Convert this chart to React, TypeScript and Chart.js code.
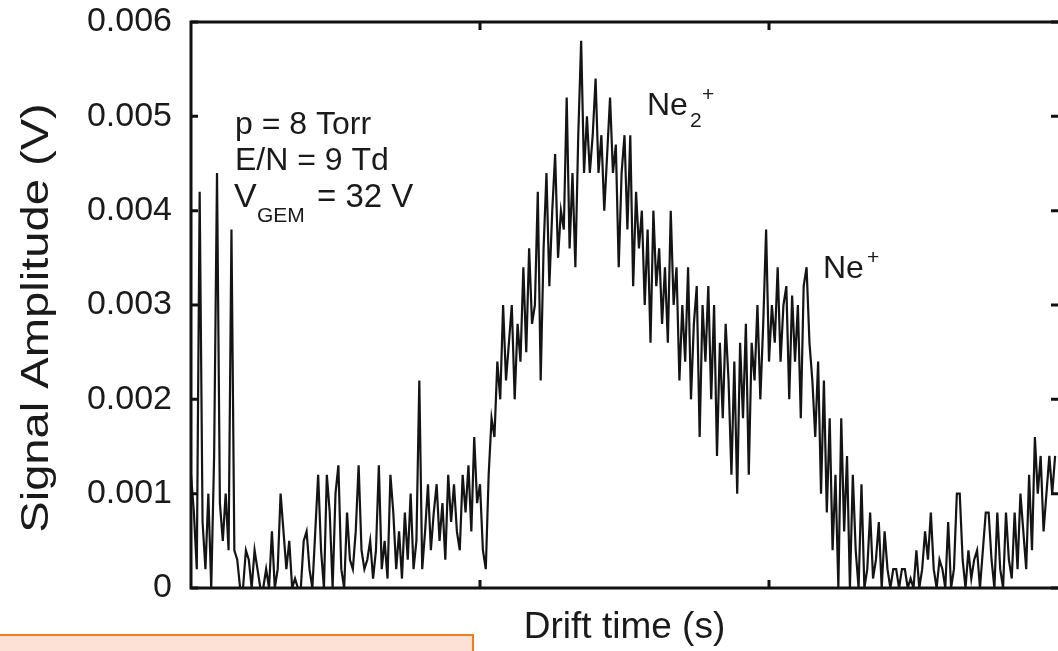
import React, { useEffect, useRef } from "react";
import { Chart, registerables } from "chart.js";

Chart.register(...registerables);

const signal: number[] = [
  0.0012, 0.0008, 0.0002, 0.0042, 0.0007, 0.0002, 0.0010, 0.0000, 0.0014, 0.0044,
  0.0009, 0.0005, 0.0010, 0.0004, 0.0038, 0.0004, 0.0003, 0.0000, 0.0000, 0.0004,
  0.0003, 0.0000, 0.0004, 0.0002, 0.0000, 0.0000, 0.0002, 0.0000, 0.0006, 0.0000,
  0.0002, 0.0010, 0.0006, 0.0002, 0.0005, 0.0000, 0.0001, 0.0000, 0.0000, 0.0005,
  0.0006, 0.0002, 0.0000, 0.0006, 0.0012, 0.0004, 0.0000, 0.0012, 0.0008, 0.0000,
  0.0010, 0.0013, 0.0002, 0.0000, 0.0008, 0.0003, 0.0002, 0.0006, 0.0013, 0.0004,
  0.0002, 0.0003, 0.0005, 0.0001, 0.0004, 0.0013, 0.0002, 0.0005, 0.0001, 0.0012,
  0.0008, 0.0002, 0.0006, 0.0001, 0.0008, 0.0003, 0.0010, 0.0002, 0.0005, 0.0022,
  0.0002, 0.0006, 0.0011, 0.0004, 0.0008, 0.0011, 0.0005, 0.0009, 0.0003, 0.0012,
  0.0007, 0.0011, 0.0006, 0.0004, 0.0012, 0.0008, 0.0013, 0.0006, 0.0016, 0.0009,
  0.0011, 0.0004, 0.0002, 0.0012, 0.0018, 0.0016, 0.0024, 0.0020, 0.0030, 0.0022,
  0.0026, 0.0030, 0.0020, 0.0028, 0.0024, 0.0034, 0.0025, 0.0036, 0.0028, 0.0030,
  0.0042, 0.0022, 0.0036, 0.0044, 0.0032, 0.0040, 0.0046, 0.0035, 0.0040, 0.0038,
  0.0052, 0.0036, 0.0044, 0.0034, 0.0048, 0.0058, 0.0044, 0.0050, 0.0044, 0.0048,
  0.0054, 0.0044, 0.0048, 0.0040, 0.0046, 0.0052, 0.0044, 0.0047, 0.0034, 0.0044,
  0.0048, 0.0038, 0.0048, 0.0032, 0.0042, 0.0036, 0.0040, 0.0030, 0.0038, 0.0026,
  0.0040, 0.0032, 0.0036, 0.0028, 0.0034, 0.0026, 0.0040, 0.0030, 0.0034, 0.0022,
  0.0030, 0.0024, 0.0034, 0.0020, 0.0028, 0.0032, 0.0016, 0.0030, 0.0024, 0.0032,
  0.0020, 0.0030, 0.0014, 0.0026, 0.0018, 0.0028, 0.0022, 0.0012, 0.0024, 0.0010,
  0.0026, 0.0018, 0.0028, 0.0012, 0.0026, 0.0022, 0.0030, 0.0020, 0.0028, 0.0038,
  0.0024, 0.0030, 0.0026, 0.0034, 0.0024, 0.0030, 0.0032, 0.0020, 0.0031, 0.0024,
  0.0030, 0.0018, 0.0032, 0.0034, 0.0026, 0.0022, 0.0016, 0.0024, 0.0010, 0.0022,
  0.0008, 0.0018, 0.0004, 0.0012, 0.0000, 0.0018, 0.0006, 0.0014, 0.0000, 0.0012,
  0.0004, 0.0000, 0.0011, 0.0000, 0.0002, 0.0008, 0.0001, 0.0003, 0.0007, 0.0000,
  0.0006, 0.0002, 0.0000, 0.0002, 0.0002, 0.0000, 0.0002, 0.0002, 0.0000, 0.0001,
  0.0000, 0.0004, 0.0000, 0.0002, 0.0006, 0.0003, 0.0008, 0.0002, 0.0000, 0.0003,
  0.0002, 0.0000, 0.0007, 0.0000, 0.0002, 0.0010, 0.0010, 0.0003, 0.0000, 0.0004,
  0.0001, 0.0003, 0.0004, 0.0000, 0.0004, 0.0008, 0.0008, 0.0003, 0.0000, 0.0008,
  0.0002, 0.0000, 0.0008, 0.0003, 0.0001, 0.0008, 0.0002, 0.0010, 0.0006, 0.0002,
  0.0012, 0.0004, 0.0016, 0.0010, 0.0014, 0.0006, 0.0010, 0.0014, 0.0010, 0.0014,
];
const SAMPLE_STEP = 0.01;
const X_MIN = 0;
const X_MAX = 3;
const xTickValues = [1, 2];
const yTickValues = [0, 0.001, 0.002, 0.003, 0.004, 0.005, 0.006];
const yTickLabels = ["0", "0.001", "0.002", "0.003", "0.004", "0.005", "0.006"];
const yTitle = "Signal Amplitude (V)";
const xTitle = "Drift time (s)";

const FONT = "'Liberation Sans', Arial, Helvetica, sans-serif";
const INK = "#1a1a1a";

const framePlugin = {
  id: "frame",
  afterDatasetsDraw(chart: any) {
    const { ctx, chartArea: a, scales } = chart;
    const xs = scales.x;
    const ys = scales.y;
    ctx.save();
    ctx.strokeStyle = "#111";
    ctx.lineWidth = 3;
    ctx.beginPath();
    ctx.moveTo(a.right + 2, a.top);
    ctx.lineTo(a.left, a.top);
    ctx.lineTo(a.left, a.bottom);
    ctx.lineTo(a.right + 2, a.bottom);
    ctx.stroke();
    // inward tick marks
    ctx.beginPath();
    for (const v of yTickValues) {
      const y = ys.getPixelForValue(v);
      ctx.moveTo(a.left, y);
      ctx.lineTo(a.left + 7, y);
      ctx.moveTo(a.right, y);
      ctx.lineTo(a.right - 7, y);
    }
    for (const v of xTickValues) {
      const x = xs.getPixelForValue(v);
      ctx.moveTo(x, a.bottom);
      ctx.lineTo(x, a.bottom - 8);
      ctx.moveTo(x, a.top);
      ctx.lineTo(x, a.top + 8);
    }
    ctx.stroke();

    // y-axis title (slightly wide lettering as in the reference)
    ctx.save();
    ctx.fillStyle = INK;
    ctx.font = `38px ${FONT}`;
    ctx.textAlign = "center";
    ctx.textBaseline = "middle";
    ctx.translate(38, (a.top + a.bottom) / 2 + 13);
    ctx.rotate(-Math.PI / 2);
    ctx.scale(1.24, 1);
    ctx.fillText(yTitle, 0, 0);
    ctx.restore();

    // annotations
    ctx.fillStyle = INK;
    ctx.textAlign = "left";
    ctx.textBaseline = "alphabetic";
    const big = `32px ${FONT}`;
    const small = `21px ${FONT}`;
    ctx.font = big;
    ctx.fillText("p = 8 Torr", 235, 134);
    ctx.fillText("E/N = 9 Td", 235, 170);
    ctx.font = `34px ${FONT}`;
    ctx.fillText("V", 234, 207);
    ctx.font = small;
    ctx.fillText("GEM", 257, 222);
    ctx.font = `33px ${FONT}`;
    ctx.fillText("= 32 V", 317, 207);

    ctx.font = big;
    ctx.fillText("Ne", 647, 115);
    ctx.font = small;
    ctx.fillText("2", 690, 127);
    ctx.fillText("+", 702, 101);

    ctx.font = big;
    ctx.fillText("Ne", 823, 278);
    ctx.font = small;
    ctx.fillText("+", 867, 264);
    ctx.restore();
  },
};

export default function App() {
  const ref = useRef<HTMLCanvasElement>(null);
  useEffect(() => {
    if (!ref.current) return;
    const points = signal.map((v, i) => ({ x: X_MIN + i * SAMPLE_STEP, y: v }));
    const chart = new Chart(ref.current, {
      type: "line",
      data: {
        datasets: [
          {
            data: points,
            borderColor: "#141414",
            borderWidth: 2.2,
            pointRadius: 0,
            tension: 0,
            fill: false,
          },
        ],
      },
      options: {
        responsive: false,
        animation: false,
        layout: { padding: { top: 22, right: 0, bottom: 0, left: 0 } },
        plugins: { legend: { display: false }, tooltip: { enabled: false } },
        scales: {
          x: {
            type: "linear",
            min: X_MIN,
            max: X_MAX,
            grid: { display: false, drawTicks: false },
            border: { display: false },
            ticks: { display: false },
            title: {
              display: true,
              text: xTitle,
              color: INK,
              font: { family: FONT, size: 37 },
              padding: { top: 0, bottom: 1 },
            },
            afterFit: (s: any) => {
              s.height = 63;
              s.paddingLeft = 0;
              s.paddingRight = 0;
            },
          },
          y: {
            type: "linear",
            min: 0,
            max: 0.006,
            grid: { display: false, drawTicks: false },
            border: { display: false },
            ticks: {
              stepSize: 0.001,
              color: INK,
              padding: 19,
              font: { family: FONT, size: 34 },
              callback: (v: any) => {
                const idx = yTickValues.findIndex((t) => Math.abs(t - Number(v)) < 1e-9);
                return idx >= 0 ? yTickLabels[idx] : "";
              },
            },
            title: { display: false },
            afterFit: (s: any) => {
              s.width = 191;
              s.paddingTop = 0;
              s.paddingBottom = 0;
            },
          },
        },
      },
      plugins: [framePlugin],
    });
    return () => chart.destroy();
  }, []);

  return (
    <div style={{ position: "absolute", left: 0, top: 0, width: 1058, height: 651, overflow: "hidden", background: "#fff" }}>
      <canvas ref={ref} width={1058} height={651} style={{ display: "block" }} />
      <div
        style={{
          position: "absolute",
          left: -2,
          top: 634,
          width: 476,
          height: 40,
          background: "#fde0d6",
          border: "2px solid #f47a20",
          boxSizing: "border-box",
        }}
      />
    </div>
  );
}
